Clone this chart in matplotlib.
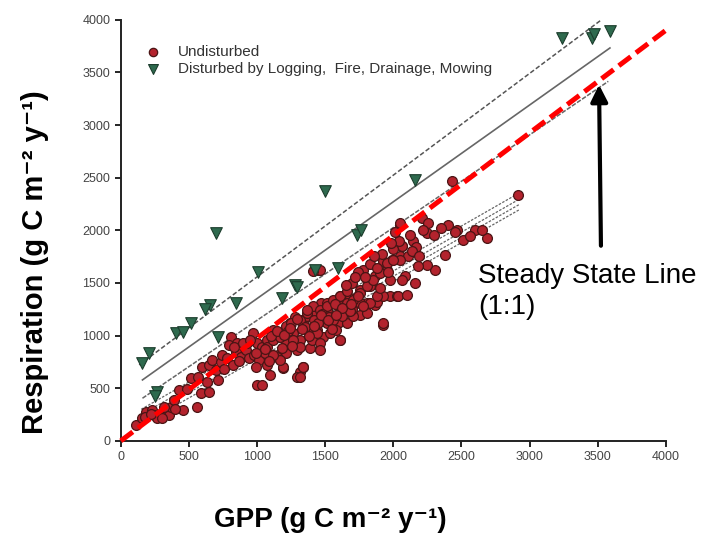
import numpy as np
import matplotlib
matplotlib.use('Agg')
import matplotlib.pyplot as plt

plt.rcParams['font.family'] = ['Liberation Sans', 'DejaVu Sans']

# undisturbed sites (GPP, respiration)
und_gpp = [110, 159, 184, 232, 245, 269, 306, 355, 367, 318, 392, 453, 558, 428, 489,
           514, 563, 587, 648, 636, 599, 648, 697, 710, 673, 734, 746, 783, 808, 795,
           844, 856, 881, 918, 942, 979, 1003, 1015, 1040, 1003, 967, 832,
           1057, 1070, 1094, 1033, 1155, 1192, 1290, 1314, 1290, 1339, 1388, 1400, 1314,
           1265, 1241, 1339, 1437, 1485, 1534, 1559, 1608, 1596, 1657, 1681, 1632, 1510,
           1412, 1363, 1167, 1118, 1070, 1216, 1755, 1804, 1865, 1926, 1718, 1510, 1461, 1583,
           1449, 1473, 1608, 1681, 1755, 1804, 1865, 1828, 1779, 1926, 1987, 2048, 2048,
           2061, 1951, 1975, 2024, 1877, 1755, 1608, 1510, 1828,
           2428, 2917, 2049, 2208, 2257, 2244, 2404, 2465, 2514, 2599, 2685, 2379, 2306,
           2244, 2183, 2147, 2061, 2110, 2049, 2159, 2085, 2036, 2098, 2061,
           923, 996, 1070, 1118, 1167, 1216, 1314, 1363, 1412, 1461, 1510, 1559, 1608, 1657,
           1706, 1755, 1804, 1853, 1902, 1951, 2000, 1975, 1926, 1926, 1804, 1608, 1437,
           1314, 1216, 1143, 996, 1314, 1339, 1192, 1167, 1265, 1363, 1510, 1559, 1706,
           1779, 1877, 1461, 1412, 180, 220, 300, 400, 1230, 1280, 1350, 1420, 1480, 1550,
           1620, 1700, 1180, 1120, 1250, 1380, 1450, 1530, 1680, 1740, 900, 950, 1060,
           1100, 1150, 1200, 1240, 1290, 1330, 1370, 1420, 1470, 1520, 1570, 1620, 1660,
           1700, 1740, 1790, 1830, 1880, 1920, 1960, 2000, 2040, 2120, 2170, 2220, 2300,
           2350, 2450, 2560, 2650, 1650, 1720, 1860, 1900, 2010, 1580, 1690, 760, 820, 870,
           1090, 1460, 1260, 2140, 2190, 1980]
und_resp = [152, 215, 278, 294, 247, 215, 263, 247, 326, 326, 389, 294, 326, 484, 491,
            595, 611, 453, 469, 564, 706, 722, 675, 579, 770, 754, 817, 785, 991, 912,
            849, 928, 801, 865, 785, 817, 928, 770, 896, 532, 1023, 896,
            833, 722, 627, 532, 817, 690, 865, 659, 611, 706, 880, 960, 960,
            1023, 1118, 1118, 1055, 991, 1023, 1118, 960, 1118, 1118, 1277, 1308, 1245,
            1213, 1182, 991, 1055, 960, 928, 1198, 1308, 1292, 1102, 1308, 1150, 928, 1055,
            1625, 1308, 1372, 1356, 1435, 1530, 1562, 1467, 1625, 1705, 1720, 1752, 2053,
            1847, 1625, 1372, 1372, 1324, 1308, 1277, 1308, 1308,
            2465, 2338, 2069, 2117, 2069, 1974, 2053, 2006, 1911, 2006, 1926, 1768, 1625,
            1673, 1657, 1895, 1847, 1752, 1720, 1499, 1562, 1372, 1388, 1530,
            928, 833, 896, 960, 991, 1087, 1150, 1213, 1277, 1245, 1277, 1340, 1372, 1308,
            1340, 1404, 1467, 1530, 1594, 1689, 1720, 1530, 1372, 1118, 1213, 960, 1023,
            896, 833, 801, 706, 611, 706, 706, 770, 960, 1055, 1118, 1150, 1182,
            1277, 1372, 1626, 1610, 230, 260, 220, 300, 1040, 1180, 1080, 1150, 1210, 1060,
            1190, 1250, 880, 820, 1120, 1000, 1120, 1180, 1230, 1380, 930, 960, 870,
            1000, 1040, 1010, 1070, 1160, 1060, 1240, 1090, 1200, 1150, 1300, 1260, 1420,
            1500, 1600, 1560, 1680, 1640, 1780, 1600, 1820, 1900, 1960, 1840, 2000, 1960,
            2020, 1980, 1950, 2000, 1480, 1560, 1760, 1450, 1980, 1200, 1300, 680, 720, 760,
            760, 860, 900, 1800, 1760, 1880]

# disturbed sites
dis_gpp = [159, 208, 404, 453, 514, 653, 710, 845, 269, 250, 697, 1498, 1730, 1424,
           1593, 1278, 1180, 2158, 3235, 3456, 3590, 3470, 1006, 1760, 620, 1290]
dis_resp = [741, 839, 1027, 1039, 1122, 1293, 991, 1312, 469, 430, 1977, 2370, 1958, 1625,
            1644, 1483, 1359, 2481, 3828, 3831, 3891, 3870, 1600, 2000, 1250, 1460]

# regression lines and confidence bands (end points)
dis_up_x, dis_up_y = [135, 3529], [722, 4002]
dis_mid_x, dis_mid_y = [159, 3590], [579, 3733]
dis_lo_x, dis_lo_y = [159, 3578], [405, 3416]
und_x = [150, 2930]
und_bands = [[300, 2360], [250, 2300], [200, 2250], [150, 2200]]
one_to_one_x, one_to_one_y = [0, 4030], [0, 3930]

fig = plt.figure(figsize=(7.19, 5.37), dpi=100)
ax = fig.add_axes([0.168, 0.179, 0.758, 0.784])

for b in und_bands:
    ax.plot(und_x, b, color='#666666', lw=0.9, ls=(0, (2, 1.2)), zorder=1)
ax.plot(dis_up_x, dis_up_y, color='#555555', lw=1.1, ls=(0, (3, 1.5)), zorder=1)
ax.plot(dis_mid_x, dis_mid_y, color='#666666', lw=1.2, zorder=1)
ax.plot(dis_lo_x, dis_lo_y, color='#666666', lw=1.1, ls=(0, (3, 1)), zorder=1)

ax.scatter(und_gpp, und_resp, s=50, marker='o', facecolor='#b3232d', edgecolor='#4a1515',
           lw=0.9, zorder=3, label='Undisturbed')
ax.scatter(dis_gpp, dis_resp, s=70, marker='v', facecolor='#2e6a4e', edgecolor='#1c3d2d',
           lw=0.8, zorder=3, label='Disturbed by Logging,  Fire, Drainage, Mowing')

ax.plot(one_to_one_x, one_to_one_y, color='#ff0000', lw=3.6, dashes=(3, 1.3),
        zorder=4, clip_on=False, solid_capstyle='butt', dash_capstyle='butt')

ax.annotate('', xy=(3510, 3384), xytext=(3524, 1854),
            arrowprops=dict(arrowstyle='-|>', lw=3, color='black', mutation_scale=25,
                            shrinkA=0, shrinkB=0), zorder=5)
ax.text(2621, 1692, 'Steady State Line\n(1:1)', fontsize=20, ha='left', va='top',
        linespacing=1.25, zorder=5)

ax.set_xlim(0, 4000)
ax.set_ylim(0, 4000)
ax.set_xticks(np.arange(0, 4001, 500))
ax.set_yticks(np.arange(0, 4001, 500))
ax.tick_params(labelsize=9, labelcolor='#444444', length=4, width=1.2, direction='out')
for side in ['top', 'right']:
    ax.spines[side].set_visible(False)
for side in ['left', 'bottom']:
    ax.spines[side].set_linewidth(1.4)
    ax.spines[side].set_color('#222222')

leg = ax.legend(loc='upper left', bbox_to_anchor=(0.02, 0.955), frameon=False,
                fontsize=11, handletextpad=0.6, labelspacing=0.2, borderaxespad=0,
                markerscale=0.85)
for t in leg.get_texts():
    t.set_color('#333333')

fig.text(330 / 719, 1 - 520 / 537, 'GPP (g C m\u207b\u00b2 y\u207b\u00b9)',
         fontsize=20, fontweight='bold', ha='center', va='center')
fig.text(35 / 719, 1 - 262 / 537, 'Respiration (g C m\u207b\u00b2 y\u207b\u00b9)',
         fontsize=21, fontweight='bold', ha='center', va='center', rotation=90)

fig.savefig('out.png', dpi=100)
